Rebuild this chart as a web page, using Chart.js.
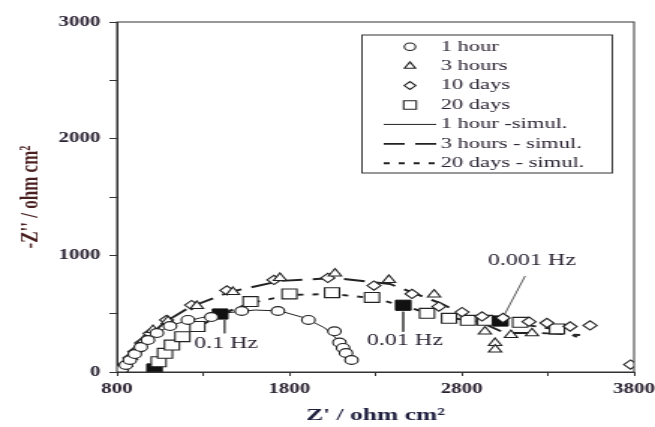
<!DOCTYPE html>
<html>
<head>
<meta charset="utf-8">
<title>Impedance - Nyquist plot</title>
<script src="https://cdn.jsdelivr.net/npm/chart.js"></script>
<style>
  html, body { margin: 0; padding: 0; background: #fff; }
</style>
</head>
<body>
<!-- drawn narrow and stretched sideways, like the scanned original -->
<canvas id="chart" width="437" height="427" style="display:block;width:655px;height:427px"></canvas>
<script>
var hour1Re = [829, 852, 875, 904, 939, 980, 1032, 1108, 1212, 1348, 1524, 1734, 1911, 2062, 2091, 2112, 2129, 2161];
var hour1Im = [26, 60, 103, 154, 214, 274, 334, 394, 446, 471, 523, 523, 446, 349, 253, 206, 163, 103];

var hour3Re = [823, 852, 881, 916, 957, 1009, 1096, 1264, 1473, 1746, 2065, 2378, 2640, 2935, 2994, 2994, 3086, 3208];
var hour3Im = [26, 69, 129, 197, 274, 360, 437, 566, 686, 806, 844, 789, 664, 347, 249, 193, 317, 332];

var day10Re = [817, 846, 875, 904, 943, 992, 1088, 1233, 1438, 1711, 2024, 2291, 2512, 2668, 2802, 2918, 3040, 3191, 3295, 3429, 3545, 3780];
var day10Im = [17, 60, 120, 174, 249, 332, 446, 574, 699, 789, 806, 741, 669, 561, 514, 476, 463, 431, 420, 390, 399, 64];

var day20Re = [1042, 1079, 1119, 1180, 1267, 1575, 1801, 2048, 2280, 2599, 2727, 2837, 2935, 3139, 3353];
var day20Im = [88, 160, 231, 303, 390, 604, 669, 680, 639, 503, 460, 443, 443, 426, 369];

// filled squares (marked frequencies on the 20 days curve)
var markedRe = [1018, 1399, 2461, 3025];
var markedIm = [26, 497, 572, 437];

// fitted (simulated) curves
var sim1hRe = [812, 841, 875, 916, 968, 1038, 1137, 1282, 1427, 1601, 1746, 1891, 2007, 2082, 2123, 2164];
var sim1hIm = [9, 51, 111, 180, 257, 343, 411, 463, 506, 531, 523, 463, 377, 274, 189, 86];

var sim3hRe = [812, 846, 887, 933, 992, 1079, 1224, 1456, 1746, 2065, 2384, 2674, 2906, 3052, 3255, 3487];
var sim3hIm = [9, 60, 137, 223, 317, 429, 557, 686, 780, 806, 754, 591, 429, 334, 334, 317];

var sim20dRe = [991, 1026, 1067, 1119, 1183, 1270, 1409, 1572, 1804, 2048, 2280, 2471, 2616, 2848, 3139, 3371, 3469];
var sim20dIm = [9, 69, 146, 223, 300, 386, 497, 591, 660, 669, 634, 566, 497, 437, 411, 360, 300];

// frequency notes: text and the short pointer line to the marked point
var noteText = ['0.1 Hz', '0.01 Hz', '0.001 Hz'];
var noteRe = [1433, 2471, 3208];
var noteIm = [240, 266, 951];
var pointerFromRe = [1424, 2461, 3042];
var pointerFromIm = [446, 517, 474];
var pointerToRe = [1424, 2461, 3168];
var pointerToIm = [332, 345, 823];

function pts(re, im) {
  var out = [];
  for (var i = 0; i < re.length; i++) out.push({x: re[i], y: im[i]});
  return out;
}

var ink = '#222';
var textInk = '#2a2232';
var serif = "'Liberation Serif', 'Times New Roman', serif";

function markerSet(label, re, im, style, r) {
  return {
    label: label, data: pts(re, im), showLine: false, legendKind: 'marker',
    pointStyle: style, pointRadius: r, borderColor: ink, backgroundColor: '#fff',
    pointBorderWidth: 1.1, pointBackgroundColor: '#fff', pointBorderColor: ink
  };
}

function simSet(label, re, im, width, dash) {
  return {
    label: label, data: pts(re, im), showLine: true, legendKind: 'line',
    borderColor: ink, borderWidth: width, borderDash: dash, pointRadius: 0,
    tension: 0, fill: false
  };
}

var datasets = [
  markerSet('1 hour', hour1Re, hour1Im, 'circle', 4.4),
  markerSet('3 hours', hour3Re, hour3Im, 'triangle', 5),
  markerSet('10 days', day10Re, day10Im, 'rectRot', 4.6),
  markerSet('20 days', day20Re, day20Im, 'rect', 7),
  {
    label: 'marked', data: pts(markedRe, markedIm), showLine: false,
    pointStyle: 'rect', pointRadius: 7.2, pointBackgroundColor: '#111', pointBorderColor: '#111', pointBorderWidth: 1
  }
];
for (var k = 0; k < noteText.length; k++) {
  datasets.push({
    label: 'pointer ' + noteText[k],
    data: [{x: pointerFromRe[k], y: pointerFromIm[k]}, {x: pointerToRe[k], y: pointerToIm[k]}],
    showLine: true, pointRadius: 0, borderColor: '#555', borderWidth: 1
  });
}
datasets.push(simSet('1 hour -simul.', sim1hRe, sim1hIm, 1, []));
datasets.push(simSet('3 hours - simul.', sim3hRe, sim3hIm, 1.9, [14, 7]));
datasets.push(simSet('20 days - simul.', sim20dRe, sim20dIm, 1.9, [4, 6]));

// box around the plotting area
var framePlugin = {
  id: 'frame',
  afterDatasetsDraw: function (chart) {
    var a = chart.chartArea, ctx = chart.ctx;
    ctx.save();
    ctx.strokeStyle = '#333';
    ctx.lineWidth = 1;
    ctx.strokeRect(a.left, a.top, a.right - a.left, a.bottom - a.top);
    ctx.restore();
  }
};

// frequency labels placed in data coordinates
var notePlugin = {
  id: 'notes',
  afterDatasetsDraw: function (chart) {
    var ctx = chart.ctx, xs = chart.scales.x, ys = chart.scales.y;
    ctx.save();
    ctx.fillStyle = textInk;
    ctx.font = '16px ' + serif;
    ctx.textAlign = 'center';
    ctx.textBaseline = 'middle';
    for (var i = 0; i < noteText.length; i++) {
      ctx.fillText(noteText[i], xs.getPixelForValue(noteRe[i]), ys.getPixelForValue(noteIm[i]));
    }
    ctx.restore();
  }
};

// boxed legend in the upper right, symbols in one column, lines longer
var legendPlugin = {
  id: 'boxLegend',
  afterDraw: function (chart) {
    var ctx = chart.ctx;
    var box = {left: 241.5, top: 35, right: 408.5, bottom: 173};
    var rowY = 46.7, rowStep = 19.43, markX = 273.5, lineFrom = 256, lineTo = 291, textX = 294;
    ctx.save();
    ctx.strokeStyle = '#333';
    ctx.lineWidth = 1;
    ctx.strokeRect(box.left, box.top, box.right - box.left, box.bottom - box.top);
    ctx.font = '15px ' + serif;
    ctx.textBaseline = 'middle';
    ctx.textAlign = 'left';
    var row = 0;
    chart.data.datasets.forEach(function (ds) {
      if (!ds.legendKind) return;
      var y = rowY + row * rowStep;
      ctx.strokeStyle = ink;
      if (ds.legendKind === 'marker') {
        ctx.fillStyle = '#fff';
        ctx.lineWidth = 1.1;
        ctx.setLineDash([]);
        Chart.helpers.drawPoint(ctx, {pointStyle: ds.pointStyle, radius: ds.pointRadius * 0.85, borderWidth: 1.1, rotation: 0}, markX, y);
      } else {
        ctx.lineWidth = ds.borderWidth;
        ctx.setLineDash(ds.borderDash);
        ctx.beginPath();
        ctx.moveTo(lineFrom, y);
        ctx.lineTo(lineTo, y);
        ctx.stroke();
        ctx.setLineDash([]);
      }
      ctx.fillStyle = textInk;
      ctx.fillText(ds.label, textX, y);
      row++;
    });
    ctx.restore();
  }
};

new Chart(document.getElementById('chart'), {
  type: 'scatter',
  data: { datasets: datasets },
  plugins: [framePlugin, notePlugin, legendPlugin],
  options: {
    responsive: false,
    animation: false,
    devicePixelRatio: 1,
    layout: { padding: { left: 0, right: 14, top: 22, bottom: 0 } },
    plugins: { legend: { display: false }, tooltip: { enabled: false } },
    scales: {
      x: {
        type: 'linear', min: 800, max: 3800,
        afterFit: function (s) { s.height = 55; s.paddingLeft = 0; s.paddingRight = 0; },
        ticks: {
          stepSize: 500, padding: 5, color: textInk,
          font: { family: serif, size: 14, weight: 'bold' },
          callback: function (v) { return (v - 800) % 1000 === 0 ? v : ''; }
        },
        grid: { drawOnChartArea: false, tickLength: 4, color: '#333' },
        border: { color: '#333', width: 1 },
        title: {
          display: true, text: "Z' / ohm cm\u00b2", color: '#1f1f3f',
          font: { family: serif, size: 17, weight: 'bold' }, padding: { top: 0, bottom: 1 }
        }
      },
      y: {
        type: 'linear', min: 0, max: 3000,
        afterFit: function (s) { s.width = 78; },
        ticks: {
          stepSize: 500, padding: 6, color: textInk,
          font: { family: serif, size: 14, weight: 'bold' },
          callback: function (v) { return v % 1000 === 0 ? v : ''; }
        },
        grid: { drawOnChartArea: false, tickLength: 5, color: '#333' },
        border: { color: '#333', width: 1 },
        title: {
          display: true, text: "-Z'' / ohm cm\u00b2", color: '#4a1f1f',
          font: { family: serif, size: 17, weight: 'bold' }, padding: { top: 10.5, bottom: 0 }
        }
      }
    }
  }
});
</script>
</body>
</html>
